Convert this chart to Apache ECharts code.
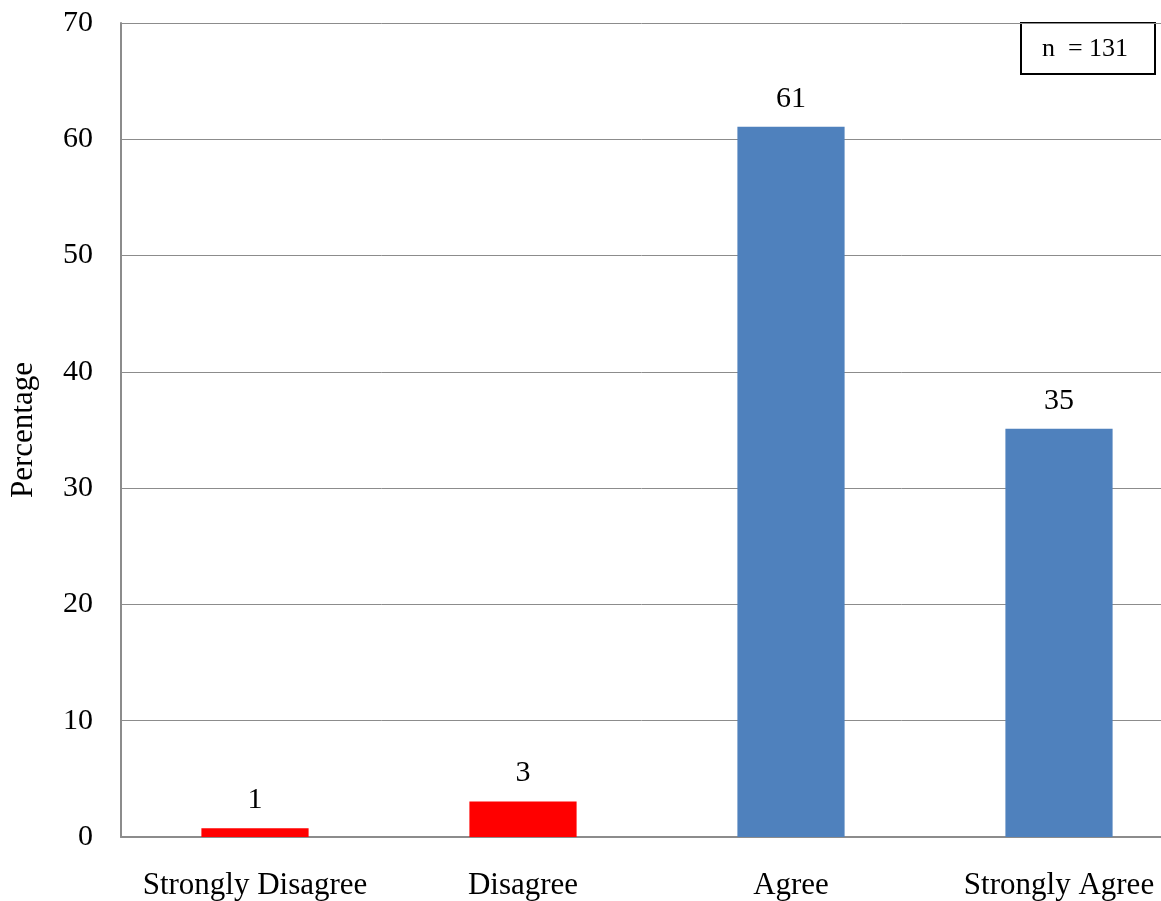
<!DOCTYPE html>
<html>
<head>
<meta charset="utf-8">
<script src="https://cdn.jsdelivr.net/npm/echarts@6/dist/echarts.min.js"></script>
<style>
html,body{margin:0;padding:0;background:#fff;}
#main{width:1161px;height:901px;}
</style>
</head>
<body>
<div id="main"></div>
<script>
var categories = ['Strongly Disagree', 'Disagree', 'Agree', 'Strongly Agree'];
var values = [0.76, 3.05, 61.07, 35.11];
var barLabels = ['1', '3', '61', '35'];
var barColors = ['#ff0000', '#ff0000', '#4f81bd', '#4f81bd'];
var yTicks = [0, 10, 20, 30, 40, 50, 60, 70];
var yTitle = 'Percentage';
var noteText = 'n  = 131';

var font = '"Liberation Serif", "Times New Roman", serif';
var chart = echarts.init(document.getElementById('main'));
chart.setOption({
  animation: false,
  backgroundColor: '#ffffff',
  grid: { left: 121, width: 1072, top: 23, height: 814, containLabel: false, outerBoundsMode: 'none' },
  xAxis: {
    type: 'category',
    data: categories,
    axisLine: { lineStyle: { color: '#8c8c8c', width: 2 } },
    axisTick: { show: false },
    axisLabel: { fontFamily: font, fontSize: 31, color: '#000', margin: 33, interval: 0, hideOverlap: false }
  },
  yAxis: {
    type: 'value',
    min: yTicks[0], max: yTicks[yTicks.length - 1], interval: 10,
    name: yTitle,
    nameLocation: 'middle',
    nameGap: 82,
    nameRotate: 90,
    nameTextStyle: { fontFamily: font, fontSize: 31, color: '#000' },
    axisLine: { show: true, lineStyle: { color: '#8c8c8c', width: 2 } },
    axisTick: { show: false },
    splitLine: { lineStyle: { color: '#8c8c8c', width: 1 } },
    axisLabel: { fontFamily: font, fontSize: 30, color: '#000', margin: 28 }
  },
  series: [{
    type: 'bar',
    barWidth: '40%',
    data: values.map(function (v, i) {
      return { value: v, itemStyle: { color: barColors[i] } };
    }),
    label: {
      show: true,
      position: 'top',
      distance: 13,
      fontFamily: font, fontSize: 30, color: '#000',
      formatter: function (p) { return barLabels[p.dataIndex]; }
    }
  }],
  graphic: [{
    type: 'group',
    left: 1020, top: 22,
    children: [
      { type: 'rect', shape: { x: 0, y: 0, width: 134, height: 51 },
        style: { fill: '#fff', stroke: '#000', lineWidth: 2 } },
      { type: 'text', x: 64, y: 26,
        style: { text: noteText, fontFamily: font, fontSize: 26, fill: '#000',
                 align: 'center', verticalAlign: 'middle' } }
    ]
  }]
});
</script>
</body>
</html>
